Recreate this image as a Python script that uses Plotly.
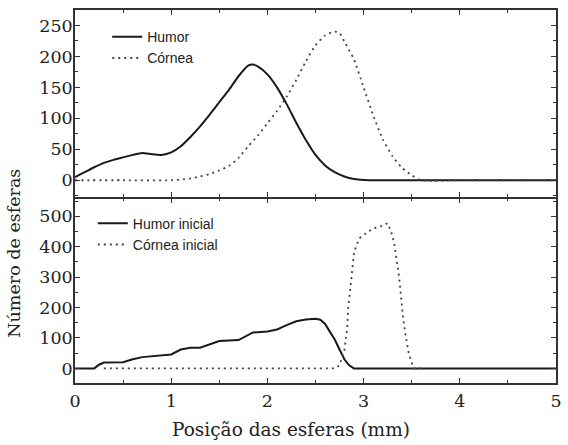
import plotly.graph_objects as go

# ---- data ----
x_humor = [0.0, 0.1, 0.2, 0.3, 0.4, 0.5, 0.6, 0.7, 0.8, 0.9, 1.0, 1.1, 1.2, 1.3, 1.4, 1.5,
           1.6, 1.7, 1.8, 1.85, 1.9, 2.0, 2.1, 2.2, 2.3, 2.4, 2.5, 2.6, 2.7, 2.8, 2.9, 3.0,
           3.2, 3.5, 4.0, 4.5, 5.0]
y_humor = [5, 13, 21, 28, 33, 37, 41, 44, 42, 41, 45, 55, 70, 87, 106, 126,
           146, 168, 185, 187, 184, 171, 150, 123, 93, 65, 41, 24, 13, 6, 2, 0.5,
           0, 0, 0, 0, 0]

x_cornea = [0.0, 0.5, 1.0, 1.1, 1.2, 1.3, 1.4, 1.5, 1.6, 1.7, 1.8, 1.9, 2.0, 2.1, 2.2, 2.3,
            2.4, 2.5, 2.6, 2.7, 2.75, 2.8, 2.9, 3.0, 3.1, 3.2, 3.3, 3.4, 3.5, 3.6, 4.0, 5.0]
y_cornea = [0, 0, 0, 1, 3, 6, 10, 16, 23, 36, 55, 72, 92, 112, 135, 162,
            192, 218, 234, 240, 238, 224, 195, 150, 105, 66, 39, 20, 8, 0, 0, 0]

x_humor_ini = [0.0, 0.2, 0.25, 0.3, 0.5, 0.6, 0.7, 0.9, 1.0, 1.1, 1.2, 1.3, 1.4, 1.5, 1.7,
               1.8, 1.85, 2.0, 2.1, 2.2, 2.3, 2.4, 2.5, 2.55, 2.6, 2.65, 2.7, 2.75, 2.8,
               2.85, 2.9, 3.5, 4.0, 5.0]
y_humor_ini = [0, 0, 12, 19, 20, 30, 37, 42, 46, 62, 68, 68, 80, 90, 93,
               108, 118, 121, 128, 142, 155, 161, 163, 160, 146, 120, 95, 62, 30,
               10, 0, 0, 0, 0]

x_cornea_ini = [0.3, 1.0, 2.0, 2.7, 2.75, 2.8, 2.83, 2.84, 2.86, 2.88, 2.9, 2.93, 2.96, 3.03,
                3.1, 3.18, 3.25, 3.29, 3.32, 3.34, 3.37, 3.39, 3.41, 3.44, 3.47, 3.52, 3.6]
y_cornea_ini = [0, 0, 0, 0, 10, 60, 134, 200, 255, 330, 380, 408, 428, 445,
                460, 467, 477, 445, 408, 363, 298, 232, 167, 101, 49, 0, 0]

x_ticks = [0, 1, 2, 3, 4, 5]

# ---- figure ----
solid = dict(color="#1a1a1a", width=2)
dotted = dict(color="#444444", width=1.8, dash="2px,4px")

fig = go.Figure()
fig.add_trace(go.Scatter(x=x_humor, y=y_humor, mode="lines", name="Humor",
                         line=dict(**solid, shape="spline", smoothing=0.6),
                         xaxis="x", yaxis="y", legend="legend"))
fig.add_trace(go.Scatter(x=x_cornea, y=y_cornea, mode="lines", name="Córnea",
                         line=dict(**dotted, shape="spline", smoothing=0.6),
                         xaxis="x", yaxis="y", legend="legend"))
fig.add_trace(go.Scatter(x=x_humor_ini, y=y_humor_ini, mode="lines", name="Humor inicial",
                         line=solid, xaxis="x2", yaxis="y2", legend="legend2"))
fig.add_trace(go.Scatter(x=x_cornea_ini, y=y_cornea_ini, mode="lines", name="Córnea inicial",
                         line=dotted, xaxis="x2", yaxis="y2", legend="legend2"))

serif = "DejaVu Serif"
sans = "Liberation Sans"
axis_common = dict(showline=True, linecolor="#333333", linewidth=1.6, mirror="allticks",
                   ticks="inside", ticklen=5, tickwidth=1.3, tickcolor="#333333",
                   showgrid=False, zeroline=False,
                   tickfont=dict(family=serif, size=17.5, color="#222222"))

split = 0.4987
gap = 0.0043
fig.update_layout(
    width=568, height=445,
    margin=dict(l=75, r=6, t=10, b=62),
    paper_bgcolor="white", plot_bgcolor="white",
    showlegend=True,
    xaxis=dict(**axis_common, domain=[0, 1], range=[0, 5], anchor="y",
               tickvals=x_ticks, showticklabels=False,
               minor=dict(ticks="inside", ticklen=3, dtick=0.5, tickcolor="#333333")),
    yaxis=dict(**axis_common, domain=[split, 1], range=[-27, 275], anchor="x",
               dtick=50, tick0=0, ticklabelstandoff=-3,
               minor=dict(ticks="inside", ticklen=3, dtick=25, tickcolor="#333333")),
    xaxis2=dict(**axis_common, domain=[0, 1], range=[0, 5], anchor="y2",
                tickvals=x_ticks, ticktext=[str(v) for v in x_ticks],
                ticklabelstandoff=1,
                minor=dict(ticks="inside", ticklen=3, dtick=0.5, tickcolor="#333333")),
    yaxis2=dict(**axis_common, domain=[0, split - gap], range=[-48, 558], anchor="x2",
                dtick=100, tick0=0, ticklabelstandoff=-3,
                minor=dict(ticks="inside", ticklen=3, dtick=50, tickcolor="#333333")),
    legend=dict(x=0.067, y=0.97, xanchor="left", yanchor="top", bgcolor="rgba(0,0,0,0)",
                font=dict(family=sans, size=14, color="#222222"), tracegroupgap=0),
    legend2=dict(x=0.037, y=0.47, xanchor="left", yanchor="top", bgcolor="rgba(0,0,0,0)",
                 font=dict(family=sans, size=14, color="#222222"), tracegroupgap=0),
    annotations=[
        dict(text="Número de esferas", xref="paper", yref="paper",
             x=-0.127, y=0.349, xanchor="center", yanchor="middle",
             textangle=-90, showarrow=False,
             font=dict(family=serif, size=17.5, color="#222222")),
        dict(text="Posição das esferas (mm)", xref="paper", yref="paper",
             x=0.45, y=-0.126, xanchor="center", yanchor="middle",
             showarrow=False,
             font=dict(family=serif, size=18.5, color="#222222")),
    ],
)

fig.write_html("out.html")
